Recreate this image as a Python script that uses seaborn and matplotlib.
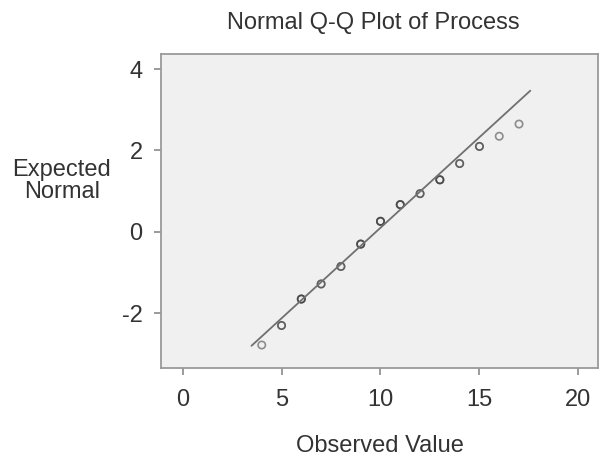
import matplotlib
matplotlib.use("Agg")
import matplotlib.pyplot as plt
import seaborn as sns
import pandas as pd

# Observed values and their expected normal scores
observed = [4, 5, 6, 7, 8, 9, 10, 11, 12, 13, 14, 15, 16, 17]
expected = [-2.78, -2.30, -1.65, -1.28, -0.85, -0.30, 0.26, 0.67, 0.94, 1.28, 1.68, 2.10, 2.35, 2.65]
# number of cases at each value (ties draw darker)
cases = [1, 2, 3, 2, 2, 3, 3, 3, 2, 3, 2, 2, 1, 1]

# reference line endpoints (observed, expected)
line_x = [3.48, 17.57]
line_y = [-2.80, 3.47]

x_ticks = [0, 5, 10, 15, 20]
y_ticks = [-2, 0, 2, 4]

sns.set_theme(style="white")
plt.rcParams["font.family"] = ["Liberation Sans", "DejaVu Sans"]
plt.rcParams["axes.unicode_minus"] = False

TXT = "#333333"
FS = 17

fig = plt.figure(figsize=(6, 4.62), dpi=100)
ax = fig.add_axes([0.268, 0.203, 0.729, 0.680])
ax.set_facecolor("#f0f0f0")

sns.lineplot(x=line_x, y=line_y, ax=ax, color="#707070", linewidth=1.3)

rows = []
for xv, yv, n in zip(observed, expected, cases):
    for _ in range(n):
        rows.append({"obs": xv, "exp": yv})
df = pd.DataFrame(rows)
sns.scatterplot(data=df, x="obs", y="exp", ax=ax, marker="o", s=28,
                facecolor="none", edgecolor="#3a3a3a", linewidth=1.2, alpha=0.55)

ax.set_xlim(-1.1, 21.0)
ax.set_ylim(-3.35, 4.37)
ax.set_xticks(x_ticks)
ax.set_yticks(y_ticks)
ax.tick_params(axis="both", bottom=True, left=True, direction="out", length=5, width=1.2,
               color="#8a8a8a", labelsize=FS, labelcolor=TXT)
ax.tick_params(axis="x", pad=10)
ax.tick_params(axis="y", pad=8)
for s in ax.spines.values():
    s.set_color("#9a9a9a")
    s.set_linewidth(1.3)

ax.set_xlabel("Observed Value", fontsize=FS, color=TXT, va="center")
ax.xaxis.set_label_coords(0.5, -0.247)
ax.set_ylabel("Expected\nNormal", fontsize=FS, color=TXT, rotation=0,
              ha="center", va="center", linespacing=1.05)
ax.yaxis.set_label_coords(-0.2265, 0.596)

fig.text(0.623, 1 - 23 / 462, "Normal Q-Q Plot of Process", ha="center", va="center",
         fontsize=FS, color=TXT)

fig.savefig("out.png", dpi=100)
